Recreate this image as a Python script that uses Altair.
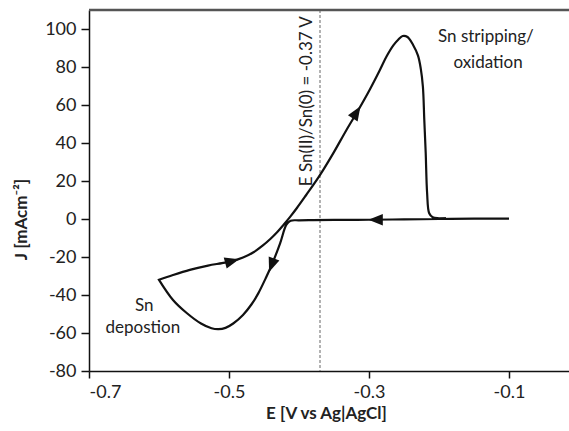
import altair as alt
import pandas as pd

# Cyclic voltammogram (E in V vs Ag|AgCl, J in mA cm^-2), in sweep order
E = [-0.100, -0.150, -0.200, -0.250, -0.300, -0.350, -0.380, -0.400, -0.412,
     -0.418, -0.427, -0.439, -0.448, -0.458, -0.468, -0.480, -0.494, -0.505,
     -0.515, -0.525, -0.540, -0.560, -0.580, -0.600, -0.600,
     -0.580, -0.556, -0.530, -0.510, -0.496, -0.480, -0.465, -0.452, -0.441,
     -0.431, -0.422, -0.413, -0.403, -0.390, -0.372, -0.352, -0.332, -0.315,
     -0.299, -0.285, -0.275, -0.265, -0.258, -0.252, -0.245, -0.237, -0.230,
     -0.226, -0.223, -0.221, -0.219, -0.217, -0.214, -0.209, -0.200, -0.190]
J = [0.2, 0.2, 0.0, -0.2, -0.4, -0.5, -0.6, -0.7, -0.9,
     -3.0, -12.8, -24.2, -31.5, -39.0, -45.0, -50.5, -55.0, -57.3,
     -58.0, -57.5, -55.0, -49.6, -42.6, -32.0, -32.0,
     -29.5, -26.8, -24.5, -23.2, -22.2, -20.3, -17.5, -14.0, -10.5,
     -6.8, -3.0, 1.0, 5.8, 12.5, 22.0, 34.0, 47.0, 57.5,
     68.0, 78.0, 85.5, 91.5, 94.5, 96.3, 95.8, 91.6, 86.0,
     79.0, 69.6, 52.0, 34.7, 13.7, 3.0, 0.9, 0.4, 0.3]

# Direction arrows along the sweep
arrow_E = [-0.496, -0.439, -0.318, -0.290]
arrow_J = [-22.2, -24.2, 56.0, -0.4]
arrow_angle = [75, 200, 32, 270]

x_ticks = [-0.7, -0.5, -0.3, -0.1]
y_ticks = [-80, -60, -40, -20, 0, 20, 40, 60, 80, 100]
x_domain = [-0.7, -0.0143]
y_domain = [-80, 110]

E_ref = -0.37
labels_text = ["Sn stripping/", "oxidation", "Sn", "depostion"]
labels_E = [-0.133, -0.130, -0.621, -0.623]
labels_J = [96, 82, -46, -57.5]
ref_text = "E Sn(II)/Sn(0) = -0.37 V"
ref_text_E = -0.389
ref_text_J = 62

FONT = "Lato"
ARROW = "M0,-1L0.75,0.9L-0.75,0.9Z"

curve = pd.DataFrame({"E": E, "J": J, "i": range(len(E))})
arrows = pd.DataFrame({"E": arrow_E, "J": arrow_J, "a": arrow_angle})
labels = pd.DataFrame({"E": labels_E, "J": labels_J, "t": labels_text})

xs = alt.Scale(domain=x_domain, nice=False, zero=False)
ys = alt.Scale(domain=y_domain, nice=False, zero=False)

x_axis = alt.Axis(values=x_ticks, title="E [V vs Ag|AgCl]",
                  labelExpr="replace(format(datum.value, '.1f'), '\u2212', '-')",
                  titleX=237, titleY=42, titleBaseline="middle", titleAlign="center",
                  tickSize=7, labelPadding=5)
y_axis = alt.Axis(values=y_ticks, title="J [mAcm\u207b\u00b2]",
                  labelExpr="replace(format(datum.value, 'd'), '\u2212', '-')",
                  titleX=-68, titleY=209, titleAngle=270, titleAlign="center",
                  titleBaseline="middle", tickSize=8, labelPadding=5)

line = alt.Chart(curve).mark_line(color="#111111", strokeWidth=2.2, clip=True,
                                  interpolate="catmull-rom").encode(
    x=alt.X("E:Q", scale=xs, axis=x_axis),
    y=alt.Y("J:Q", scale=ys, axis=y_axis),
    order="i:Q",
)

arrow_marks = alt.Chart(arrows).mark_point(shape=ARROW, filled=True, size=230,
                                           color="#111111", opacity=1).encode(
    x=alt.X("E:Q", scale=xs),
    y=alt.Y("J:Q", scale=ys),
    angle=alt.Angle("a:Q", scale=None),
)

ref_line = alt.Chart(pd.DataFrame({"E": [E_ref]})).mark_rule(
    color="#666666", strokeWidth=1, strokeDash=[3, 2]).encode(x=alt.X("E:Q", scale=xs))

top_border = alt.Chart(pd.DataFrame({"J": [y_domain[1]]})).mark_rule(
    color="#555555", strokeWidth=2.5).encode(y=alt.Y("J:Q", scale=ys))

text_marks = alt.Chart(labels).mark_text(font=FONT, fontSize=17, color="#222222",
                                         align="center", baseline="middle").encode(
    x=alt.X("E:Q", scale=xs), y=alt.Y("J:Q", scale=ys), text="t:N")

ref_label = alt.Chart(pd.DataFrame({"E": [ref_text_E], "J": [ref_text_J], "t": [ref_text]})).mark_text(
    font=FONT, fontSize=17, color="#222222", angle=270, align="center", baseline="middle").encode(
    x=alt.X("E:Q", scale=xs), y=alt.Y("J:Q", scale=ys), text="t:N")

chart = alt.layer(ref_line, top_border, line, arrow_marks, text_marks, ref_label).properties(
    width=480, height=361,
    autosize=alt.AutoSizeParams(type="none"),
    padding={"left": 89, "top": 10, "right": 0, "bottom": 60},
    background="white",
).configure_view(stroke="transparent").configure_axis(
    grid=False, labelFont=FONT, labelFontSize=18, labelColor="#222222",
    titleFont=FONT, titleFontSize=17, titleFontWeight="bold", titleColor="#222222",
    domainColor="#111111", domainWidth=1.5, tickColor="#111111", tickWidth=1.5,
)

chart.save("out.html", embed_options={"renderer": "svg", "actions": False})
